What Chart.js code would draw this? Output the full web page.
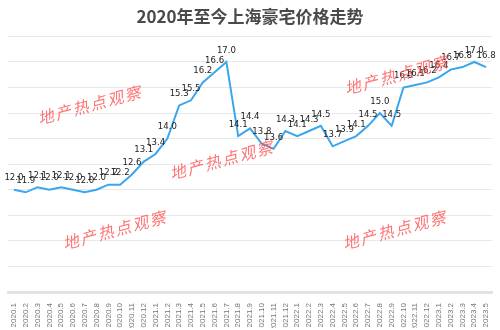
<!DOCTYPE html>
<html>
<head>
<meta charset="utf-8">
<script src="https://cdn.jsdelivr.net/npm/chart.js@4"></script>
<style>
html,body{margin:0;padding:0;background:#fff;}
#wrap{width:500px;height:330px;}
</style>
</head>
<body>
<div id="wrap"><canvas id="c" width="500" height="330"></canvas></div>
<script>
const months = ["2020.1","2020.2","2020.3","2020.4","2020.5","2020.6","2020.7","2020.8","2020.9","2020.10","2020.11","2020.12",
"2021.1","2021.2","2021.3","2021.4","2021.5","2021.6","2021.7","2021.8","2021.9","2021.10","2021.11","2021.12",
"2022.1","2022.2","2022.3","2022.4","2022.5","2022.6","2022.7","2022.8","2022.9","2022.10","2022.11","2022.12",
"2023.1","2023.2","2023.3","2023.4","2023.5"];
const prices = [12.0,11.9,12.1,12.0,12.1,12.0,11.9,12.0,12.2,12.2,12.6,13.1,
13.4,14.0,15.3,15.5,16.2,16.6,17.0,14.1,14.4,13.8,13.6,14.3,
14.1,14.3,14.5,13.7,13.9,14.1,14.5,15.0,14.5,16.0,16.1,16.2,
16.4,16.7,16.8,17.0,16.8];
const priceLabels = ["12.0","11.9","12.1","12.0","12.1","12.0","12.0","12.0","12.2","12.2","12.6","13.1",
"13.4","14.0","15.3","15.5","16.2","16.6","17.0","14.1","14.4","13.8","13.6","14.3",
"14.1","14.3","14.5","13.7","13.9","14.1","14.5","15.0","14.5","16.0","16.1","16.2",
"16.4","16.7","16.8","17.0","16.8"];
const title = "2020年至今上海豪宅价格走势";
const watermark = "地产热点观察";

const valueLabelPlugin = {
  id: 'valueLabels',
  afterDatasetsDraw(chart) {
    const ctx = chart.ctx;
    const meta = chart.getDatasetMeta(0);
    ctx.save();
    ctx.font = '9.5px "Liberation Sans Narrow", "DejaVu Sans Condensed", sans-serif';
    ctx.fillStyle = '#222';
    ctx.textAlign = 'center';
    ctx.textBaseline = 'bottom';
    meta.data.forEach((pt, i) => {
      ctx.fillText(priceLabels[i], pt.x, pt.y - 7);
    });
    ctx.restore();
  }
};

const watermarkPlugin = {
  id: 'watermark',
  afterDraw(chart) {
    const ctx = chart.ctx;
    const spots = [[90,105],[222,160],[397,75],[115,230],[395,230]];
    ctx.save();
    ctx.font = 'italic 16px "Noto Sans CJK SC", sans-serif';
    ctx.fillStyle = 'rgba(255,80,80,0.8)';
    ctx.textAlign = 'center';
    ctx.textBaseline = 'middle';
    spots.forEach(([x, y]) => {
      ctx.save();
      ctx.translate(x, y);
      ctx.rotate(-0.26);
      ctx.letterSpacing = '2px';
      ctx.fillText(watermark, 0, 0);
      ctx.restore();
    });
    ctx.restore();
  }
};

new Chart(document.getElementById('c'), {
  type: 'line',
  data: {
    labels: months,
    datasets: [{
      data: prices,
      borderColor: '#3aa6ee',
      borderWidth: 2,
      pointRadius: 0,
      tension: 0,
      fill: false
    }]
  },
  options: {
    responsive: false,
    animation: false,
    layout: { padding: { left: 8, right: 8, top: 0, bottom: 2 } },
    plugins: {
      legend: { display: false },
      tooltip: { enabled: false },
      title: {
        display: true,
        text: title,
        color: '#4a4a4a',
        font: { family: '"Noto Sans CJK SC", sans-serif', size: 17, weight: 'bold' },
        padding: { top: 6, bottom: 10 }
      }
    },
    scales: {
      x: {
        offset: true,
        grid: { display: false },
        border: { display: true, color: '#e2e2e2', width: 3 },
        afterFit(scale) { scale.height = 36; },
        ticks: {
          color: '#777',
          font: { family: '"Liberation Sans", Arial, sans-serif', size: 8 },
          minRotation: 90, maxRotation: 90,
          autoSkip: false,
          padding: 3
        }
      },
      y: {
        min: 8, max: 18,
        ticks: { display: false, stepSize: 1 },
        grid: { color: '#e8e8e8', lineWidth: 1, drawTicks: false },
        border: { display: false }
      }
    }
  },
  plugins: [valueLabelPlugin, watermarkPlugin]
});
</script>
</body>
</html>
